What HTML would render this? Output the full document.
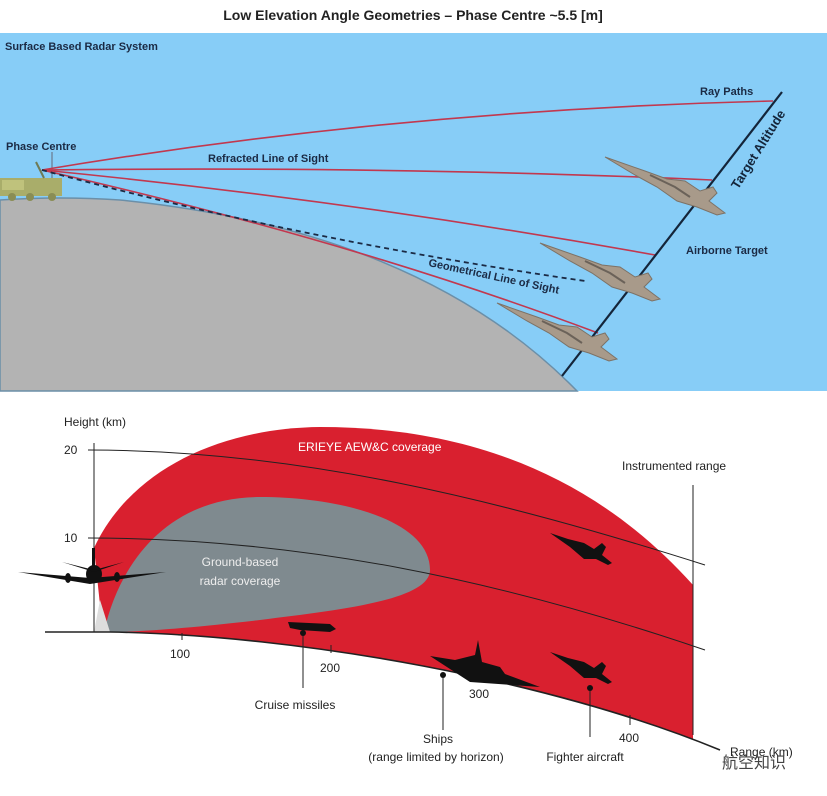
<!DOCTYPE html>
<html><head><meta charset="utf-8"><style>
html,body{margin:0;padding:0;background:#fff;}
svg{display:block;font-family:"Liberation Sans",sans-serif;}
</style></head><body>
<svg width="827" height="796" viewBox="0 0 827 796" xmlns="http://www.w3.org/2000/svg">
<defs>
<g id="jet">
<path d="M0,0 L40,14 L62,22 L80,24 L95,34 L108,30 L112,36 L104,44 L120,56 L112,58 L92,50 L72,44 L52,30 L30,18 Z" fill="#a89a8a" stroke="#7d7266" stroke-width="1"/>
<path d="M45,18 L70,30 L85,40" stroke="#6b6259" stroke-width="2" fill="none"/>
</g>
<g id="fjet">
<path d="M0,0 L18,6 L34,10 L44,16 L52,10 L56,14 L52,22 L62,30 L58,32 L46,26 L34,26 L20,14 Z" fill="#111"/>
</g>
</defs>
<rect x="0" y="0" width="827" height="33" fill="#fff"/>
<text x="413" y="20" text-anchor="middle" font-size="14" font-weight="bold" fill="#222">Low Elevation Angle Geometries – Phase Centre ~5.5 [m]</text>
<rect x="0" y="33" width="827" height="358" fill="#87cdf7"/>
<path d="M0,200 Q60,196 120,200 Q420,230 577,391 L0,391 Z" fill="#b3b3b3" stroke="#6b8fa8" stroke-width="1.5"/>
<text x="5" y="50" font-size="11" font-weight="bold" fill="#1b2a44">Surface Based Radar System</text>
<text x="6" y="150" font-size="11" font-weight="bold" fill="#1b2a44">Phase Centre</text>
<rect x="0" y="178" width="62" height="18" fill="#a9ad6a"/>
<rect x="2" y="180" width="22" height="10" fill="#bfc27c"/>
<circle cx="12" cy="197" r="4" fill="#8a8d55"/><circle cx="30" cy="197" r="4" fill="#8a8d55"/><circle cx="52" cy="197" r="4" fill="#8a8d55"/>
<line x1="36" y1="162" x2="44" y2="178" stroke="#6e7a55" stroke-width="2"/>
<line x1="52" y1="152" x2="52" y2="178" stroke="#667" stroke-width="1"/>
<g stroke="#c2384f" stroke-width="1.6" fill="none">
<path d="M42,170 Q400,110 773,101"/>
<path d="M42,170 Q400,166 712,180"/>
<path d="M42,170 Q350,200 655,255"/>
<path d="M42,170 Q350,240 598,333"/>
</g>
<path d="M42,170 Q300,240 585,281" stroke="#1b2a44" stroke-width="1.8" stroke-dasharray="5,4" fill="none"/>
<line x1="562" y1="376" x2="782" y2="92" stroke="#14253a" stroke-width="2.2"/>
<use href="#jet" transform="translate(605,157)"/>
<use href="#jet" transform="translate(540,243)"/>
<use href="#jet" transform="translate(497,303)"/>
<text x="700" y="95" font-size="11" font-weight="bold" fill="#1b2a44">Ray Paths</text>
<text x="208" y="162" font-size="11" font-weight="bold" fill="#1b2a44">Refracted Line of Sight</text>
<text x="686" y="254" font-size="11" font-weight="bold" fill="#1b2a44">Airborne Target</text>
<text x="0" y="0" font-size="11" font-weight="bold" fill="#1b2a44" transform="translate(428,266) rotate(12)">Geometrical Line of Sight</text>
<text x="0" y="0" font-size="13" font-weight="bold" fill="#14253a" transform="translate(738,190) rotate(-58)">Target Altitude</text>
<!-- bottom -->
<path d="M94,548 C130,470 220,428 320,427 C460,427 590,470 693,585 L693,770 L110,700 Z" fill="#d9202f"/>
<path d="M45,632 L110,632 C300,635 550,680 720,750 L827,796 L0,796 L0,632 Z" fill="#fff"/>
<path d="M693,723 L693,796 L827,796 L827,723 Z" fill="#fff"/>
<path d="M104,632 C120,560 170,497 260,497 C340,497 430,520 430,570 C430,600 340,610 260,620 C190,628 140,632 104,632 Z" fill="#7f8a8f"/>
<path d="M94,632 L100,600 L110,632 Z" fill="#ddd"/>
<g stroke="#222" stroke-width="1" fill="none">
<path d="M88,450 C300,450 500,500 705,565"/>
<path d="M88,538 C300,538 500,580 705,650"/>
<line x1="94" y1="443" x2="94" y2="632"/>
<path d="M45,632 L110,632 C300,635 550,680 720,750" stroke-width="1.6"/>
<line x1="693" y1="485" x2="693" y2="735"/>
<line x1="182" y1="633" x2="182" y2="640"/><line x1="331" y1="645" x2="331" y2="653"/><line x1="480" y1="672" x2="480" y2="682"/><line x1="630" y1="715" x2="630" y2="725"/>
<line x1="303" y1="634" x2="303" y2="688"/><line x1="443" y1="675" x2="443" y2="730"/><line x1="590" y1="690" x2="590" y2="737"/>
</g>
<circle cx="303" cy="633" r="3" fill="#111"/><circle cx="443" cy="675" r="3" fill="#111"/><circle cx="590" cy="688" r="3" fill="#111"/>
<text x="64" y="426" font-size="12" fill="#222">Height (km)</text>
<text x="64" y="454" font-size="12" fill="#222">20</text>
<text x="64" y="542" font-size="12" fill="#222">10</text>
<text x="170" y="658" font-size="12" fill="#222">100</text>
<text x="320" y="672" font-size="12" fill="#222">200</text>
<text x="469" y="698" font-size="12" fill="#222">300</text>
<text x="619" y="742" font-size="12" fill="#222">400</text>
<text x="298" y="451" font-size="12" fill="#fff">ERIEYE AEW&amp;C coverage</text>
<text x="622" y="470" font-size="12" fill="#222">Instrumented range</text>
<text x="240" y="566" font-size="12" fill="#eee" text-anchor="middle">Ground-based</text>
<text x="240" y="585" font-size="12" fill="#eee" text-anchor="middle">radar coverage</text>
<text x="295" y="709" font-size="12" fill="#222" text-anchor="middle">Cruise missiles</text>
<text x="438" y="743" font-size="12" fill="#222" text-anchor="middle">Ships</text>
<text x="436" y="761" font-size="12" fill="#222" text-anchor="middle">(range limited by horizon)</text>
<text x="585" y="761" font-size="12" fill="#222" text-anchor="middle">Fighter aircraft</text>
<text x="730" y="756" font-size="12" fill="#222">Range (km)</text>
<text x="722" y="768" font-size="16" fill="#444" font-family="'Liberation Sans','Noto Sans CJK SC',sans-serif">航空知识</text>
<g fill="#111">
<path d="M18,572 L90,578 L166,572 L90,584 Z"/>
<ellipse cx="94" cy="574" rx="8" ry="9"/>
<rect x="92" y="548" width="3" height="20"/>
<path d="M62,562 L94,570 L124,562 L94,572 Z"/>
<ellipse cx="68" cy="578" rx="3" ry="5"/><ellipse cx="117" cy="577" rx="3" ry="5"/>
</g>
<path d="M288,622 L330,624 L336,629 L330,632 L300,630 L290,628 Z" fill="#111"/>
<path d="M430,656 L455,660 L475,655 L478,640 L482,662 L500,667 L505,674 L540,687 L470,682 Z" fill="#111"/>
<use href="#fjet" transform="translate(550,533)"/>
<use href="#fjet" transform="translate(550,652)"/>
</svg>
</body></html>
